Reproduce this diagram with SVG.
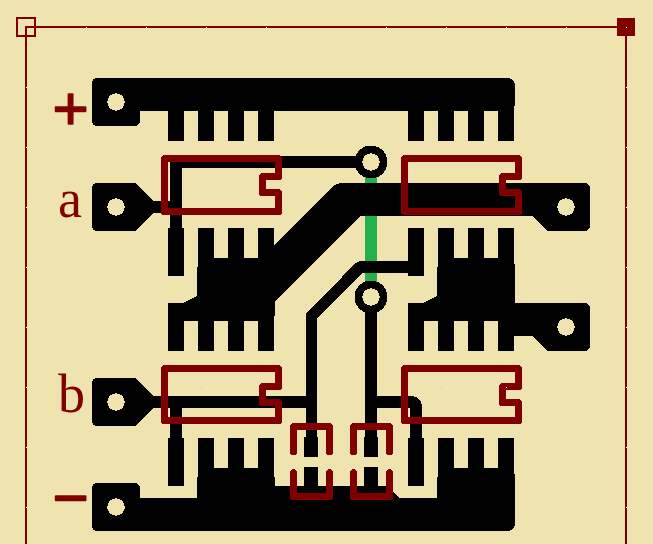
<svg xmlns="http://www.w3.org/2000/svg" width="653" height="544" viewBox="0 0 653 544">
<style>
.bg{fill:#efe4b0}
.k{fill:#000;shape-rendering:crispEdges}
.t{fill:none;stroke:#000;stroke-width:11.5;stroke-linejoin:round;shape-rendering:crispEdges}
.hole{fill:#efe4b0;stroke:none;shape-rendering:crispEdges}
.pad{fill:#000;shape-rendering:crispEdges}
.fr{fill:#800000;shape-rendering:crispEdges}
.f{fill:none;stroke:#800000;stroke-width:2;shape-rendering:crispEdges}
.r{fill:none;stroke:#800000;stroke-width:7;stroke-linejoin:round;stroke-linecap:round;shape-rendering:crispEdges}
.lbl{fill:#800000;font-family:"Liberation Serif",serif;font-size:54px}
.sym{fill:#800000;stroke:#800000;stroke-width:1.500;stroke-linejoin:round;font-family:"Liberation Sans",sans-serif;font-size:62px;text-anchor:middle}
</style>
<rect class="bg" width="653" height="544"/>
<g id="frame">
<path class="fr" d="M25 26H627V544H625V28H27V544H25Z"/>
<rect class="f" x="17" y="18" width="18" height="18"/>
<rect class="fr" x="617" y="18" width="18" height="18"/>
</g>
<rect id="jumper" x="365" y="175" width="12" height="112" fill="#22b14c" shape-rendering="crispEdges"/>
<g id="net-plus">
<path class="k" d="M98 78H507Q515 78 515 86V106H514V141H498V111H484V141H468V111H454V141H438V111H424V141H408V111H274V141H258V111H244V141H228V111H214V141H198V111H184V141H168V111H140V120Q140 126 134 126H98Q92 126 92 120V84Q92 78 98 78Z"/>
</g>
<g id="net-a">
<path class="k" d="M98 183H135L153 201H170V156H371V168H182V228H170V213H153L135 231H98Q92 231 92 225V189Q92 183 98 183Z"/>
<rect class="k" x="168" y="228" width="16" height="48"/>
<circle class="pad" cx="371" cy="162" r="16.500"/>
</g>
<g id="net-out-a">
<path class="k" d="M342 183H584Q590 183 590 189V225Q590 231 584 231H547L532 216H360L275 301V316H274V351H258V321H244V351H228V321H214V351H198V321H184V351H168V303H183L197 296V267H198V228H214V258H228V228H244V258H258V228H274V246L330 189Q336 183 342 183Z"/>
</g>
<g id="net-out-b">
<path class="k" d="M408 303H423L437 296V267H438V228H454V258H468V228H484V258H498V228H514V264H515V303H584Q590 303 590 309V345Q590 351 584 351H547L532 336H514V351H498V321H484V351H468V321H454V351H438V321H424V351H408Z"/>
</g>
<g id="net-diag">
<path class="t" d="M416 267H360L311.500 316V440"/>
<rect class="k" x="408" y="228" width="16" height="48"/>
<rect class="k" x="304" y="437" width="14" height="20"/>
<rect class="k" x="304" y="467" width="14" height="25"/>
</g>
<g id="net-b">
<path class="k" d="M98 378H135L153 396H311V408H182V438H170V408H153L135 426H98Q92 426 92 420V384Q92 378 98 378Z"/>
<rect class="k" x="168" y="438" width="16" height="48"/>
</g>
<g id="net-mid">
<circle class="pad" cx="371" cy="297" r="16.500"/>
<path class="k" d="M365 297H377V396H410Q422 396 422 408V438H410V408H377V437H365Z"/>
<rect class="k" x="408" y="438" width="16" height="48"/>
<rect class="k" x="364" y="437" width="14" height="20"/>
<rect class="k" x="364" y="467" width="14" height="25"/>
</g>
<g id="net-minus">
<path class="k" d="M98 483H134Q140 483 140 489V498H197V477H198V438H214V468H228V438H244V468H258V438H274V477H275V486H387L399 498H437V477H438V438H454V468H468V438H484V468H498V438H514V474H515V523Q515 531 507 531H98Q92 531 92 525V489Q92 483 98 483Z"/>
</g>
<g id="holes">
<circle class="hole" cx="116" cy="102" r="8.700"/>
<circle class="hole" cx="116" cy="207" r="8.700"/>
<circle class="hole" cx="116" cy="402" r="8.700"/>
<circle class="hole" cx="116" cy="507" r="8.700"/>
<circle class="hole" cx="566" cy="207" r="8.700"/>
<circle class="hole" cx="566" cy="327" r="8.700"/>
<circle class="hole" cx="371" cy="162" r="8.700"/>
<circle class="hole" cx="371" cy="297" r="8.700"/>
</g>
<g id="chip-1"><path class="r" d="M164.500 158.500H278.500V176.500H262.500V192.500H278.500V211.500H164.500Z"/></g>
<g id="chip-2"><path class="r" d="M404.500 158.500H518.500V176.500H502.500V192.500H518.500V211.500H404.500Z"/></g>
<g id="chip-3"><path class="r" d="M164.500 368.500H278.500V386.500H262.500V402.500H278.500V420.500H164.500Z"/></g>
<g id="chip-4"><path class="r" d="M404.500 368.500H518.500V386.500H502.500V402.500H518.500V420.500H404.500Z"/></g>
<g id="cap-1"><path class="r" d="M293.500 452V426.500H329.500V452M293.500 472.500V496.500H329.500V472.500"/></g>
<g id="cap-2"><path class="r" d="M353.500 452V426.500H389.500V452M353.500 472.500V496.500H389.500V472.500"/></g>
<path id="grid" fill="#fff" d="M86 27h1v1h-1zM146 27h1v1h-1zM206 27h1v1h-1zM266 27h1v1h-1zM386 27h1v1h-1zM446 27h1v1h-1zM506 27h1v1h-1zM566 27h1v1h-1zM626 27h1v1h-1zM26 87h1v1h-1zM26 147h1v1h-1zM26 207h1v1h-1zM26 267h1v1h-1zM26 327h1v1h-1zM26 387h1v1h-1zM26 447h1v1h-1zM26 507h1v1h-1zM626 87h1v1h-1zM626 147h1v1h-1zM626 207h1v1h-1zM626 267h1v1h-1zM626 327h1v1h-1zM626 387h1v1h-1zM626 447h1v1h-1zM626 507h1v1h-1zM206 387h1v1h-1zM446 387h1v1h-1zM506 387h1v1h-1z"/>
<g id="labels">
<text class="sym" x="70.500" y="129">+</text>
<text class="lbl" x="58" y="217">a</text>
<text class="lbl" x="58" y="412">b</text>
<text class="sym" x="70.500" y="519">−</text>
</g>
</svg>
